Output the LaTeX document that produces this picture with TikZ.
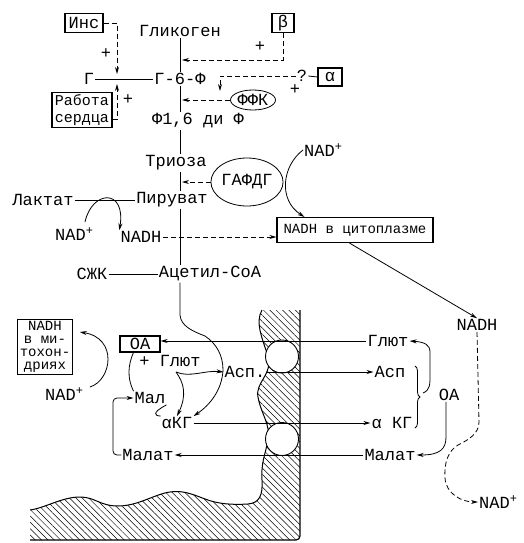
\documentclass[tikz,border=0pt]{standalone}
\usepackage{fontspec}
\setmainfont{Liberation Mono}
\usetikzlibrary{arrows.meta,shapes.geometric,patterns.meta,calc,decorations.pathreplacing}
\begin{document}
\begin{tikzpicture}[x=1pt,y=-1pt,
  lbl/.style={font=\fontsize{17}{19}\selectfont, inner sep=1pt},
  sml/.style={font=\fontsize{14}{13}\selectfont, inner sep=1pt},
  bx/.style={draw, line width=1.1pt},
  ln/.style={line width=0.8pt},
  da/.style={line width=0.8pt, dash pattern=on 5pt off 3pt, -{Stealth[length=7pt,width=4pt]}},
  ar/.style={line width=0.8pt, -{Stealth[length=7pt,width=4pt]}},
  wall/.style={pattern={Lines[angle=-45,distance=4.5pt,line width=0.5pt]}},
]
\useasboundingbox (0,0) rectangle (523,543);
% membrane
\path[wall] (262,310) .. controls (255,322) and (262,338) .. (268,356) .. controls (273,375) and (255,382) .. (258,397) .. controls (261,414) and (271,425) .. (268,440) .. controls (265,456) and (261,462) .. (262,480) .. controls (263,496) and (259,503) .. (248,504) .. controls (232,505) and (218,504) .. (205,499) .. controls (192,494) and (182,490) .. (170,492) .. controls (155,494) and (138,506) .. (118,506) .. controls (100,506) and (95,497) .. (80,497) .. controls (62,497) and (45,508) .. (30,510) -- (30,540) -- (300,540) -- (300,310) -- cycle;
\draw[line width=1pt] (262,310) .. controls (255,322) and (262,338) .. (268,356) .. controls (273,375) and (255,382) .. (258,397) .. controls (261,414) and (271,425) .. (268,440) .. controls (265,456) and (261,462) .. (262,480) .. controls (263,496) and (259,503) .. (248,504) .. controls (232,505) and (218,504) .. (205,499) .. controls (192,494) and (182,490) .. (170,492) .. controls (155,494) and (138,506) .. (118,506) .. controls (100,506) and (95,497) .. (80,497) .. controls (62,497) and (45,508) .. (30,510);
\draw[line width=1.2pt, rounded corners=4pt] (30,540) -- (300,540) -- (300,310);
\draw[fill=white, line width=0.9pt] (282,356.5) circle[radius=16.5];
\draw[fill=white, line width=0.9pt] (282,439) circle[radius=16.5];

% top nodes
\node[lbl] (glyc) at (180,31) {Гликоген};
\node[lbl] (g) at (89,79) {Г};
\node[lbl] (g6f) at (180,79) {Г-6-Ф};
\node[lbl] (f16) at (198,121) {Ф1,6 ди Ф};
\node[lbl] (trioza) at (176,163) {Триоза};
\node[lbl] (pir) at (172,200) {Пируват};
\node[lbl] (lak) at (43,200) {Лактат};
\node[lbl,anchor=west] (nadL) at (54,234) {NAD\textsuperscript{+}};
\node[lbl] (nadhL) at (141,237) {NADH};
\node[lbl] (szk) at (92,274) {СЖК};
\node[lbl] (acet) at (210,274) {Ацетил-СоА};

\node[bx,lbl,minimum width=38pt,minimum height=19pt] (ins) at (84,23) {Инс};
\node[bx,align=center,inner sep=1pt,font=\fontsize{15}{17}\selectfont,minimum width=60pt,minimum height=35pt] (rab) at (82,110) {Работа\\сердца};
\node[bx,lbl,minimum width=22pt,minimum height=19pt] (beta) at (283,23) {β};
\node[bx,lbl,minimum width=24pt,minimum height=18pt] (alpha) at (330,77) {α};
\node[lbl] (q) at (302,76) {?};
\node[draw,ellipse,ln,lbl,minimum width=45pt,minimum height=20pt,inner sep=0pt] (ffk) at (253,100) {ФФК};
\node[draw,ellipse,ln,lbl,minimum width=72pt,minimum height=48pt,inner sep=0pt] (gaf) at (247,182) {ГАФДГ};
\node[lbl,anchor=west] (nadT) at (303,150) {NAD\textsuperscript{+}};
\node[bx,sml,minimum width=156pt,minimum height=25pt] (cyto) at (355,230) {NADH в цитоплазме};
\node[lbl] (nadhR) at (477,325) {NADH};

\node[lbl] (p1) at (106,54) {+};
\node[lbl] (p2) at (128,100) {+};
\node[lbl] (p3) at (260,47) {+};
\node[lbl] (p4) at (295,90) {+};

% bottom nodes
\node[bx,sml,align=center,inner sep=2pt,minimum width=54pt] (mito) at (45,347) {NADH\\в ми-\\тохон-\\дриях};
\node[lbl,anchor=west] (nadM) at (44,394) {NAD\textsuperscript{+}};
\node[bx,lbl,minimum width=40pt,minimum height=16pt] (oa) at (140,344) {ОА};
\node[lbl] (glu) at (170,361) {+ Глют};
\node[lbl] (asp) at (245,372) {Асп.};
\node[lbl] (mal) at (150,398) {Мал};
\node[lbl] (akg) at (177,423) {αКГ};
\node[lbl] (malL) at (148,455) {Малат};
\node[lbl] (gluR) at (388,341) {Глют};
\node[lbl] (aspR) at (390,372) {Асп};
\node[lbl] (akgR) at (392,423) {α КГ};
\node[lbl] (oaR) at (449,395) {ОА};
\node[lbl] (malR) at (390,455) {Малат};
\node[lbl,anchor=west] (nadB) at (478,502) {NAD\textsuperscript{+}};

\coordinate (mB) at (182,60);
\coordinate (mF) at (182,100);
\coordinate (mG) at (182,182);
\coordinate (insT) at (117,74);
\coordinate (rabT) at (117,84);
\coordinate (aT) at (220,91);

% main line
\draw[ln] (glyc.south) -- (g6f.north);
\draw[ln] (g6f.south) -- (g6f.south |- f16.north);
\draw[ln] (g6f.south |- f16.south) -- (g6f.south |- trioza.north);
\draw[ln] (g6f.south |- trioza.south) -- (g6f.south |- pir.north);
\draw[ln] (g6f.south |- pir.south) -- (g6f.south |- acet.north);
\draw[ar] (g6f.south |- acet.south) -- (180,315) .. controls (181,326) and (192,331) .. (205,336) .. controls (217,344) and (223,356) .. (223,370) .. controls (222,390) and (210,405) .. (akg.north east);

\draw[ln] (g.east) -- (g6f.west);
\draw[ln] (lak.east) -- (pir.west);
\draw[ln] (szk.east) -- (acet.west);
\draw[da] (ins.east) -| (insT);
\draw[da] ($(rab.south east)+(0,-9)$) -| (rabT);
\draw[da] (beta.south) |- (mB);
\draw[ln] (q.east) -- (alpha.west);
\draw[da] (q.west) -| (aT);
\draw[da] (ffk.west) -- (mF);
\draw[da] (gaf.west) -- (mG);
\draw[ar] (nadT.west) .. controls (282,166) and (278,200) .. ($(cyto.north west)+(28,0)$);
\draw[ar] ($(cyto.south west)+(73,0)$) -- (nadhR.north);
\draw[da] (nadhL.east) -- (nadhL.east -| cyto.west);
\draw[ar] (85,222) .. controls (92,190) and (126,188) .. (nadhL.north west);

% cycle
\draw[ln] (oa.south west) ++(14,0) .. controls (128,365) and (127,378) .. (mal.north west);
\draw[ln] (mal.south east) .. controls (151,413) and (155,416) .. (akg.north west);
\draw[ar] (176,372) .. controls (190,378) and (205,370) .. (asp.west);
\draw[ar] (176,372) .. controls (184,383) and (187,395) .. (akg.north);
\draw[ar, rounded corners=4pt] (malL.west) -- (113,455) -- (113,398) -- (mal.west);
\draw[ar] (90,387) .. controls (112,380) and (118,338) .. ($(mito.east)+(7,-15)$);

% transport lines
\draw[ar] (gluR.west) -- (gluR.west -| oa.east);
\draw[ar] (asp.east) -- (aspR.west);
\draw[ar] (akg.east) -- (akgR.west);
\draw[ar] (malR.west) -- (malL.east);

% right side
\draw[ln,decorate,decoration={brace,amplitude=5pt}] (415,366) -- (415,428);
\draw[ar] (423,393) .. controls (430,390) and (430,385) .. (430,375) -- (430,352) .. controls (430,345) and (425,342) .. (gluR.east);
\draw[ar] ($(oaR.south)+(-3,0)$) -- (446,437) .. controls (446,449) and (440,455) .. (malR.east);
\draw[da] (nadhR.south) -- (479,422) .. controls (479,434) and (468,440) .. (458,445) .. controls (448,451) and (444,463) .. (445,478) .. controls (446,494) and (462,502) .. (nadB.west);
\end{tikzpicture}
\end{document}
